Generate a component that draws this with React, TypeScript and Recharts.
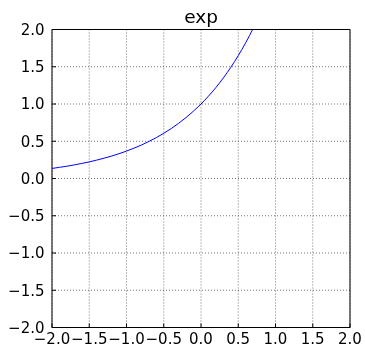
import { CartesianGrid, Line, LineChart, ReferenceArea, XAxis, YAxis } from "recharts";

// curve, x step 0.1
const xs = [
  -2.0, -1.9, -1.8, -1.7, -1.6, -1.5, -1.4, -1.3, -1.2, -1.1, -1.0, -0.9, -0.8, -0.7,
  -0.6, -0.5, -0.4, -0.3, -0.2, -0.1, 0.0, 0.1, 0.2, 0.3, 0.4, 0.5, 0.6, 0.7,
];
const ys = [
  0.135, 0.15, 0.165, 0.183, 0.202, 0.223, 0.247, 0.273, 0.301, 0.333, 0.368, 0.407,
  0.449, 0.497, 0.549, 0.607, 0.67, 0.741, 0.819, 0.905, 1.0, 1.105, 1.221, 1.35, 1.492,
  1.649, 1.822, 2.014,
];
const xTicks = [-2, -1.5, -1, -0.5, 0, 0.5, 1, 1.5, 2];
const yTicks = [-2, -1.5, -1, -0.5, 0, 0.5, 1, 1.5, 2];

const data = xs.map((x, i) => ({ x, y: ys[i] }));

const font = "DejaVu Sans, sans-serif";
const fmt = (v: number) => v.toFixed(1).replace("-", "\u2212");
const tickStyle = { fill: "#000", fontSize: 15, fontFamily: font };

export default function App() {
  // fixed so the overflow past the viewport doesn't bring scrollbars
  return (
    <div style={{ position: "fixed", left: 8, top: 8, width: 357, height: 345 }}>
      <svg width={357} height={40} style={{ position: "absolute", left: 0, top: -10 }}>
        <text x={193} y={24.5} textAnchor="middle" fontSize={18.5} fontFamily={font} fill="#000">
          exp
        </text>
      </svg>
      <LineChart width={357} height={345} data={data} margin={{ top: 21.5, right: 15, bottom: 0, left: 0 }}>
        <CartesianGrid stroke="#000" strokeOpacity={0.55} strokeDasharray="1 2" horizontalValues={yTicks} verticalValues={xTicks} />
        <XAxis
          dataKey="x"
          type="number"
          domain={[-2, 2]}
          ticks={xTicks}
          interval={0}
          allowDataOverflow
          height={25.5}
          tickSize={-4}
          tickMargin={9.5}
          tickFormatter={fmt}
          tick={tickStyle}
          axisLine={false}
          tickLine={{ stroke: "#000" }}
        />
        <XAxis xAxisId="top" orientation="top" dataKey="x" type="number" domain={[-2, 2]} ticks={xTicks} interval={0} height={0} tickSize={-4} tick={false} axisLine={false} tickLine={{ stroke: "#000" }} />
        <YAxis
          type="number"
          domain={[-2, 2]}
          ticks={yTicks}
          interval={0}
          allowDataOverflow
          width={44}
          tickSize={-4}
          tickMargin={11.5}
          tickFormatter={fmt}
          tick={tickStyle}
          axisLine={false}
          tickLine={{ stroke: "#000" }}
        />
        <YAxis yAxisId="right" orientation="right" type="number" domain={[-2, 2]} ticks={yTicks} interval={0} width={0} tickSize={-4} tick={false} axisLine={false} tickLine={{ stroke: "#000" }} />
        <ReferenceArea x1={-2} x2={2} y1={-2} y2={2} fill="none" stroke="#000" strokeWidth={1} />
        <Line dataKey="y" type="monotone" stroke="#0000ff" strokeWidth={1} dot={false} isAnimationActive={false} />
      </LineChart>
    </div>
  );
}
